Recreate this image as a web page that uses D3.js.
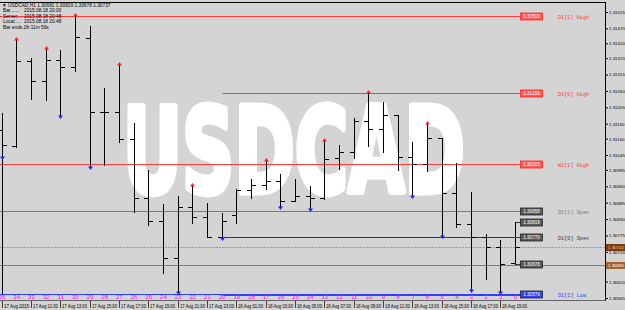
<!DOCTYPE html>
<html><head><meta charset="utf-8">
<script src="https://cdn.jsdelivr.net/npm/d3@7"></script>
<style>html,body{margin:0;padding:0;background:#d4d4d4;overflow:hidden}</style>
</head><body><svg id="c" width="625" height="310"></svg>
<script>
// ---------- data ----------
const barNums = [35,34,33,32,31,30,29,28,27,26,25,24,23,22,21,20,19,18,17,16,15,14,13,12,11,10,9,8,7,6,5,4,3,2,1,0];
const opens  = [1.31129,1.31075,1.31361,1.31293,1.31364,1.31340,1.31438,1.31189,1.31189,1.31099,1.30901,1.30823,1.30699,1.30870,1.30837,1.30770,1.30844,1.30928,1.30944,1.30958,1.30891,1.30907,1.30901,1.31035,1.31055,1.31159,1.31132,1.31179,1.31038,1.31015,1.31102,1.30917,1.30813,1.30770,1.30736,1.30681];
const highs  = [1.31186,1.31434,1.31371,1.31404,1.31397,1.31515,1.31478,1.31270,1.31350,1.31152,1.30995,1.30881,1.30907,1.30944,1.30884,1.30850,1.30931,1.30964,1.31028,1.30981,1.30964,1.30941,1.31095,1.31079,1.31169,1.31256,1.31223,1.31179,1.31089,1.31152,1.31102,1.31018,1.30921,1.30780,1.30760,1.30819];
const lows   = [1.30582,1.31072,1.31233,1.31230,1.31173,1.31327,1.31001,1.31011,1.31089,1.30854,1.30810,1.30649,1.30582,1.30817,1.30770,1.30763,1.30817,1.30901,1.30931,1.30867,1.30891,1.30860,1.30897,1.30998,1.31035,1.31075,1.31055,1.30995,1.30904,1.30991,1.30770,1.30803,1.30589,1.30629,1.30582,1.30678];
const closes = [1.31079,1.31361,1.31293,1.31364,1.31340,1.31441,1.31189,1.31189,1.31099,1.30901,1.30823,1.30699,1.30870,1.30837,1.30770,1.30823,1.30928,1.30944,1.30958,1.30891,1.30907,1.30901,1.31032,1.31055,1.31159,1.31132,1.31179,1.31038,1.31015,1.31102,1.30917,1.30813,1.30770,1.30736,1.30679,1.30737];

const fractalUpBars = [34,32,30,27,22,17,13,10,6];
const fractalDownBars = [35,31,29,23,20,16,14,7,5,3,1];
const fractalDownPrices = [1.31035,1.31173,1.31001,1.30582,1.30763,1.30867,1.30860,1.30904,1.30770,1.30589,1.30582];

const priceTicks = [1.31525,1.31470,1.31420,1.31370,1.31315,1.31260,1.31205,1.31150,1.31100,1.31045,1.30995,1.30940,1.30885,1.30830,1.30775,1.30720,1.30670,1.30620,1.30565];

const dateBars = [35,33,31,29,27,25,23,21,19,17,15,13,11,9,7,5,3,1];
const dateLabels = ["17 Aug 2015","17 Aug 11:00","17 Aug 13:00","17 Aug 15:00","17 Aug 17:00","17 Aug 19:00","17 Aug 21:00","17 Aug 23:00","18 Aug 01:00","18 Aug 03:00","18 Aug 05:00","18 Aug 07:00","18 Aug 09:00","18 Aug 11:00","18 Aug 13:00","18 Aug 15:00","18 Aug 17:00","18 Aug 19:00"];

// level lines
const levelNames  = ["D1[1] High","D1[0] High","W1[1] High","D1[1] Open","D1[0] Open","D1[1] Low","","",""];
const levelPrices = [1.31510,1.31253,1.31015,1.30858,1.30770,1.30579,1.30819,1.30678,1.30575];
const levelStart  = [36,20,36,36,20,36,0,0,20];
const levelColors = ["#ff3b3b","#ff3b3b","#ff3b3b","#7a7a7a","#3a3a3a","#2f3fff","#3a3a3a","#3a3a3a","#2f3fff"];
const levelBoxFill= ["#ff5a5a","#ff5a5a","#ff5a5a","#5a5a5a","#5a5a5a","#2f3fff","#5a5a5a","#5a5a5a",null];

// current price lines on the axis
const markPrices = [1.30737,1.30677];
const markTexts  = ["1.30742","1.30681"];
const markLineColors = ["#8d9db0","#a87048"];
const markBoxFill = ["#7a3c12","#a8622e"];

const infoLines = ["USDCAD,H1  1.30681 1.30819 1.30678 1.30737"];
const infoKeys = ["Bar.......","Server....","Local.....","Bar ends.."];
const infoVals = ["2015.08.18 20:00","2015.08.18 20:48","2015.08.18 20:48","0h 11m 56s"];

// ---------- drawing ----------
const svg = d3.select("#c");
const font = "'Liberation Sans', Arial, sans-serif";
svg.append("rect").attr("width",625).attr("height",310).attr("fill","#d4d4d4");

const x = d3.scaleLinear().domain([35,0]).range([1.5,515]);
const y = d3.scaleLinear().domain([1.30565,1.31525]).range([298,12]);
const cx = i => Math.round(x(i)) + 0.5;
const cy = p => Math.round(y(p)) + 0.5;

const plot = svg.append("g");
plot.append("clipPath").attr("id","clip").append("rect").attr("x",0).attr("y",2).attr("width",605).attr("height",299);
const pg = plot.append("g").attr("clip-path","url(#clip)");

// watermark (horizontally scaled to fit its box)
const wm = pg.append("text").attr("x",0).attr("y",0)
  .attr("font-family","'DejaVu Sans',sans-serif")
  .attr("font-weight","bold").attr("font-size",118)
  .attr("fill","#ffffff").attr("stroke","#ffffff").attr("stroke-width",6).attr("stroke-linejoin","round")
  .text("USDCAD");
const wmW = wm.node().getComputedTextLength() || 570;
wm.attr("transform",`translate(123,192) scale(${342/wmW},1)`).attr("stroke-width",6*wmW/342*0.7);

// level lines
const levels = levelNames.map((n,k)=>({n,p:levelPrices[k],s:levelStart[k],c:levelColors[k],f:levelBoxFill[k]}));
pg.selectAll("line.lvl").data(levels).join("line").attr("class","lvl")
  .attr("x1",d=>d.s>=36?0:cx(d.s)).attr("x2",520)
  .attr("y1",d=>cy(d.p)).attr("y2",d=>cy(d.p))
  .attr("stroke",d=>d.c).attr("stroke-width",1);

// mark lines
markPrices.forEach((p,k)=>{
  pg.append("line").attr("x1",0).attr("x2",605).attr("y1",cy(p)).attr("y2",cy(p))
    .attr("stroke",markLineColors[k]).attr("stroke-width",1)
    .attr("stroke-dasharray",k===0?"2,1":null);
});

// bars
const bars = barNums.map((b,k)=>({b,o:opens[k],h:highs[k],l:lows[k],c:closes[k]}));
const bg = pg.append("g").attr("stroke","#000").attr("stroke-width",1);
bars.forEach(d=>{
  const X = cx(d.b);
  bg.append("line").attr("x1",X).attr("x2",X).attr("y1",Math.round(y(d.h))).attr("y2",Math.round(y(d.l))+1);
  bg.append("line").attr("x1",X-4.5).attr("x2",X).attr("y1",cy(d.o)).attr("y2",cy(d.o));
  bg.append("line").attr("x1",X).attr("x2",X+4.5).attr("y1",cy(d.c)).attr("y2",cy(d.c));
});

// fractals
fractalUpBars.forEach(b=>{
  const k = barNums.indexOf(b), X = cx(b), Y = Math.round(y(highs[k]));
  pg.append("path").attr("d",`M${X-2.5},${Y+1.5} L${X},${Y-2} L${X+2.5},${Y+1.5} Z`).attr("fill","#ff2020");
});
fractalDownBars.forEach((b,k)=>{
  const X = cx(b), Y = Math.round(y(fractalDownPrices[k]));
  pg.append("path").attr("d",`M${X-2.5},${Y-1.5} L${X},${Y+2} L${X+2.5},${Y-1.5} Z`).attr("fill","#2020ff");
});

// level boxes + names
levels.forEach(d=>{
  if(!d.f) return;
  const Y = cy(d.p);
  pg.append("rect").attr("x",520.5).attr("y",Y-3.5).attr("width",22).attr("height",7)
    .attr("fill",d.f).attr("stroke",d.c==="#ff3b3b"?"#ff2020":"#222").attr("stroke-width",0.8);
  pg.append("text").attr("x",531.5).attr("y",Y+1.8).attr("text-anchor","middle")
    .attr("font-family",font).attr("font-size",4.6).attr("fill","#fff").text(d.p.toFixed(5));
  if(d.n) pg.append("text").attr("x",558).attr("y",Y+2)
    .attr("font-family","'Liberation Mono',monospace").attr("font-size",5.2).attr("fill",d.c).text(d.n);
});

// info text
const it = svg.append("g").attr("font-family",font).attr("font-size",4.8).attr("fill","#000");
it.append("text").attr("x",2).attr("y",6.5).text("▼ "+infoLines[0]);
infoKeys.forEach((k,i)=>{
  it.append("text").attr("x",3).attr("y",12.3+i*5.4).text(k);
  it.append("text").attr("x",24).attr("y",12.3+i*5.4).text(infoVals[i]);
});

// frame
svg.append("line").attr("x1",0).attr("x2",605.5).attr("y1",2.5).attr("y2",2.5).attr("stroke","#000");
svg.append("line").attr("x1",605.5).attr("x2",605.5).attr("y1",2).attr("y2",301).attr("stroke","#000");
svg.append("line").attr("x1",0).attr("x2",605.5).attr("y1",300.5).attr("y2",300.5).attr("stroke","#666");

// right axis
const ay = svg.append("g").attr("transform","translate(605.5,0)")
  .call(d3.axisRight(y).tickValues(priceTicks).tickSize(2.5).tickPadding(1).tickFormat(d3.format(".5f")));
ay.select(".domain").remove();
ay.selectAll("text").attr("font-family",font).attr("font-size",4.4).attr("fill","#000");
ay.selectAll("line").attr("stroke","#000");

// axis marks
markPrices.forEach((p,k)=>{
  const Y = cy(p);
  svg.append("rect").attr("x",606).attr("y",Y-3.5).attr("width",19).attr("height",7).attr("fill",markBoxFill[k]);
  svg.append("text").attr("x",608).attr("y",Y+1.8).attr("font-family",font).attr("font-size",4.4)
    .attr("fill",k===0?"#ffc890":"#fff").text(markTexts[k]);
});

// bottom bar numbers
const ax = svg.append("g").attr("transform","translate(0,293)")
  .call(d3.axisBottom(x).tickValues(barNums).tickSize(0).tickPadding(1.5).tickFormat(d3.format("d")));
ax.select(".domain").remove();
ax.selectAll("text").attr("font-family",font).attr("font-size",6).attr("fill","#ff00ff");

// date labels
const dg = svg.append("g").attr("font-family",font).attr("font-size",4.6).attr("fill","#000");
dateBars.forEach((b,k)=>{
  const X = cx(b);
  svg.append("line").attr("x1",X).attr("x2",X).attr("y1",301).attr("y2",308).attr("stroke","#000").attr("stroke-width",0.7);
  dg.append("text").attr("x",X+1.5).attr("y",307.5)
    .attr("textLength",25).attr("lengthAdjust","spacingAndGlyphs").text(dateLabels[k]);
});
</script></body></html>
